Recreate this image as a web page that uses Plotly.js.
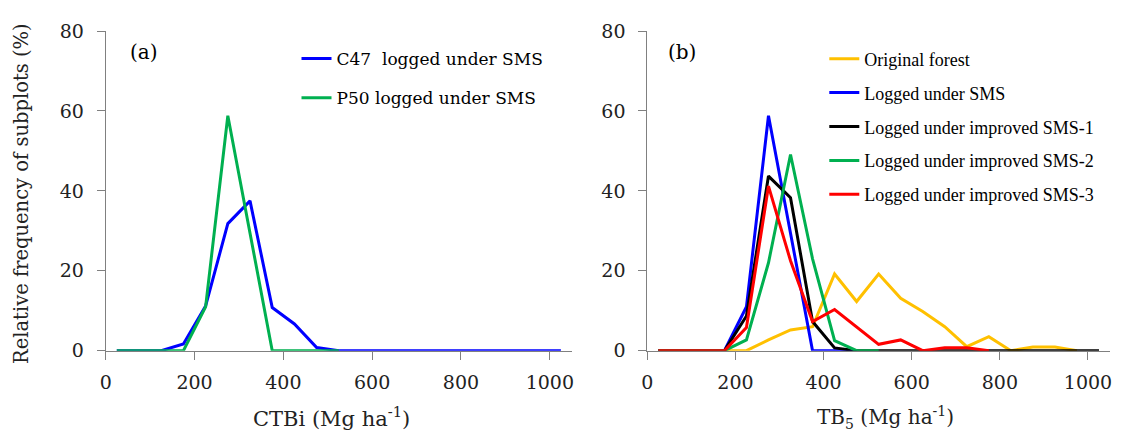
<!DOCTYPE html>
<html>
<head>
<meta charset="utf-8">
<script src="https://cdn.plot.ly/plotly-3.0.1.min.js"></script>
<style>html,body{margin:0;padding:0;background:#fff;}#chart{width:1138px;height:436px;}</style>
</head>
<body>
<div id="chart"></div>
<script>
// Bin mid-points (Mg ha-1)
var binsA = [25,75,125,175,225,275,325,375,425,475,525,575,625,675,725,775,825,875,925,975,1025];
// Panel (a): CTBi
var c47Vals = [0,0,0,1.7,11.2,31.8,37.5,10.8,6.7,0.8,0,0,0,0,0,0,0,0,0,0,0];
var p50Vals = [0,0,0,0,11,58.8,29.4,0,0,0,0];
// Panel (b): TB5
var originalVals = [0,0,0,0,0,2.7,5.2,6,19.2,12.3,19.2,13.1,9.8,6,1,3.5,0,0.9,0.9,0];
var smsVals = [0,0,0,0,11,58.8,29.4,0,0,0];
var imp1Vals = [0,0,0,0,8.7,43.7,38.3,7.3,0.7,0,0,0,0,0,0,0,0,0,0,0,0];
var imp2Vals = [0,0,0,0,2.7,22,49.1,23,2.5,0,0];
var imp3Vals = [0,0,0,0,5.8,41.2,22.5,7.3,10.3,6,1.6,2.7,0,0.75,0.75,0];
var xTicks = [0,200,400,600,800,1000];
var yTicks = [0,20,40,60,80];

var FONT = 'DejaVu Serif, serif';
var FONT_B = 'Liberation Serif, Times New Roman, serif';
function xs(vals){ return binsA.slice(0, vals.length); }
function tr(name, vals, color, xa, ya, leg){
  return {type:'scatter', mode:'lines', name:name, x:xs(vals), y:vals,
    xaxis:xa, yaxis:ya, legend:leg, legendgroup:name,
    line:{color:color, width:3}, hoverinfo:'skip'};
}
var data = [
  tr('C47  logged under SMS', c47Vals, '#0000FF', 'x', 'y', 'legend'),
  tr('P50 logged under SMS', p50Vals, '#00B050', 'x', 'y', 'legend'),
  tr('Original forest', originalVals, '#FFC000', 'x2', 'y2', 'legend2'),
  tr('Logged under SMS', smsVals, '#0000FF', 'x2', 'y2', 'legend2'),
  tr('Logged under improved SMS-1', imp1Vals, '#000000', 'x2', 'y2', 'legend2'),
  tr('Logged under improved SMS-2', imp2Vals, '#00B050', 'x2', 'y2', 'legend2'),
  tr('Logged under improved SMS-3', imp3Vals, '#FF0000', 'x2', 'y2', 'legend2')
];

var W = 1138, H = 436;
function axisCommon(){
  return {showgrid:false, zeroline:false, showline:true, linecolor:'#808080', linewidth:1,
    ticks:'outside', ticklen:8, tickcolor:'#808080', tickwidth:1,
    tickfont:{family:FONT, size:19, color:'#222'}, fixedrange:true};
}
function xax(domain, anchor){
  return Object.assign(axisCommon(), {domain:domain, anchor:anchor, range:[0,1050],
    tickvals:xTicks, ticktext:xTicks.map(String), ticklabelstandoff:6});
}
function yax(anchor){
  return Object.assign(axisCommon(), {domain:[(H-350.7)/H, (H-31)/H], anchor:anchor, range:[0,80],
    tickvals:yTicks, ticktext:yTicks.map(String), ticklabelstandoff:9});
}
function legCommon(){
  return {bgcolor:'rgba(0,0,0,0)', xanchor:'left', yanchor:'top', itemwidth:30,
    itemclick:false, itemdoubleclick:false};
}

var layout = {
  width:W, height:H, margin:{l:0, r:0, t:0, b:0},
  paper_bgcolor:'#fff', plot_bgcolor:'#fff', showlegend:true,
  xaxis: xax([105.7/W, 572/W], 'y'),
  yaxis: yax('x'),
  xaxis2: xax([647.3/W, 1110/W], 'y2'),
  yaxis2: yax('x2'),
  legend: Object.assign(legCommon(), {x:296.5/W, y:1-41/H, tracegroupgap:14,
    font:{family:FONT, size:17, color:'#000'}}),
  legend2: Object.assign(legCommon(), {x:824.3/W, y:1-40.5/H, tracegroupgap:7.5,
    font:{family:FONT_B, size:18, color:'#000'}}),
  annotations: [
    {text:'(a)', xref:'paper', yref:'paper', x:144/W, y:1-52/H, showarrow:false, xanchor:'center', yanchor:'middle', font:{family:FONT, size:20, color:'#000'}},
    {text:'(b)', xref:'paper', yref:'paper', x:682/W, y:1-52/H, showarrow:false, xanchor:'center', yanchor:'middle', font:{family:FONT, size:20, color:'#000'}},
    {text:'CTBi (Mg ha<sup>-1</sup>)', xref:'paper', yref:'paper', x:331/W, y:1-417/H, showarrow:false, xanchor:'center', yanchor:'middle', font:{family:FONT, size:21, color:'#222'}},
    {text:'TB<sub>5</sub> (Mg ha<sup>-1</sup>)', xref:'paper', yref:'paper', x:885/W, y:1-417/H, showarrow:false, xanchor:'center', yanchor:'middle', font:{family:FONT, size:20, color:'#222'}},
    {text:'Relative frequency of subplots (%)', xref:'paper', yref:'paper', x:21/W, y:1-194/H, showarrow:false, xanchor:'center', yanchor:'middle', textangle:-90, font:{family:FONT, size:19.5, color:'#222'}}
  ]
};
Plotly.newPlot('chart', data, layout, {displayModeBar:false, staticPlot:true});
</script>
</body>
</html>
